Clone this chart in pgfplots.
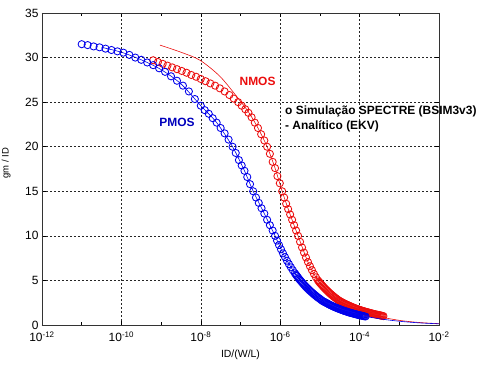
\documentclass[border=0pt]{standalone}
\usepackage{fontspec}
\setmainfont{Liberation Sans}
\usepackage{pgfplots}
\pgfplotsset{compat=1.18}
\definecolor{mblue}{rgb}{0,0,0.92}
\definecolor{mred}{rgb}{0.92,0.05,0.05}
\begin{document}
\begin{tikzpicture}
\path[use as bounding box] (-42bp,-40bp) rectangle (439bp,325bp);
\begin{axis}[
  at={(0,0)}, anchor=south west,
  scale only axis, width=397bp, height=312bp,
  clip mode=individual,
  xmin=-12, xmax=-2, ymin=0, ymax=35,
  xtick={-12,-10,-8,-6,-4,-2},
  xticklabels={10\textsuperscript{-12},10\textsuperscript{-10},10\textsuperscript{-8},10\textsuperscript{-6},10\textsuperscript{-4},10\textsuperscript{-2}},
  minor xtick={-11,-9,-7,-5,-3},
  ytick={0,5,...,35},
  grid=major,
  major grid style={dash pattern=on 2bp off 2bp, black!85, line width=0.5bp},
  tick align=inside,
  major tick length=4bp, minor tick length=3bp,
  tick style={black, line width=0.6bp},
  axis line style={line width=0.8bp, black!80},
  ticklabel style={font=\fontsize{12}{13}\selectfont},
  xticklabel style={yshift=-3bp},
  /pgf/number format/assume math mode=true,
  xlabel={ID/(W/L)}, ylabel={gm / ID},
  xlabel style={font=\fontsize{10.5}{12}\selectfont, at={(axis description cs:0.5,-0.096)}, anchor=center},
  ylabel style={font=\fontsize{9.5}{11}\selectfont, at={(axis description cs:-0.09,0.519)}, anchor=center},
]
% NMOS simulation (circles)
\addplot[only marks, mark=o, mark size=3.6bp, mred, mark options={line width=0.85bp}] coordinates {
(-9.20,29.7) (-9.08,29.5) (-8.96,29.3) (-8.84,29.1) (-8.72,28.9) (-8.60,28.7)
(-8.48,28.5) (-8.36,28.3) (-8.24,28.05) (-8.12,27.85) (-8.00,27.6) (-7.88,27.35)
(-7.76,27.1) (-7.64,26.85) (-7.52,26.55) (-7.40,26.2) (-7.28,25.8) (-7.17,25.4)
(-7.06,25.0) (-6.97,24.6) (-6.88,24.2) (-6.80,23.8) (-6.72,23.3) (-6.64,22.7)
(-6.56,22.1) (-6.48,21.4) (-6.40,20.7) (-6.33,20.0) (-6.26,19.2) (-6.19,18.3)
(-6.13,17.6) (-6.07,16.7) (-6.01,15.9) (-5.95,15.0) (-5.90,14.3) (-5.85,13.6)
(-5.80,13.0) (-5.75,12.4) (-5.70,11.8) (-5.65,11.2) (-5.60,10.6) (-5.55,10.0)
(-5.50,9.33) (-5.45,8.70) (-5.40,8.12) (-5.35,7.57) (-5.30,7.06) (-5.25,6.59)
(-5.20,6.15) (-5.15,5.73) (-5.10,5.35)
(-5.05,5.0) (-5.025,4.86) (-5.00,4.73) (-4.975,4.60) (-4.95,4.47) (-4.925,4.34)
(-4.90,4.22) (-4.875,4.10) (-4.85,3.99) (-4.825,3.88) (-4.80,3.77) (-4.775,3.66)
(-4.75,3.56) (-4.725,3.46) (-4.70,3.37) (-4.675,3.27) (-4.65,3.18) (-4.625,3.09)
(-4.60,3.01) (-4.575,2.92) (-4.55,2.84) (-4.525,2.76) (-4.50,2.69) (-4.475,2.63)
(-4.45,2.57) (-4.425,2.51) (-4.40,2.45) (-4.375,2.39) (-4.35,2.34) (-4.325,2.29)
(-4.30,2.24) (-4.275,2.19) (-4.25,2.14) (-4.225,2.09) (-4.20,2.04) (-4.175,1.99)
(-4.15,1.95) (-4.125,1.90) (-4.10,1.86) (-4.075,1.82) (-4.05,1.78) (-4.025,1.74)
(-4.00,1.70) (-3.975,1.66) (-3.95,1.63) (-3.925,1.59) (-3.90,1.56) (-3.875,1.52)
(-3.85,1.49) (-3.825,1.46) (-3.80,1.43) (-3.775,1.40) (-3.75,1.37) (-3.725,1.34)
(-3.70,1.31) (-3.675,1.28) (-3.65,1.25) (-3.625,1.22) (-3.60,1.20) (-3.575,1.17)
(-3.55,1.15) (-3.525,1.12) (-3.50,1.10) (-3.475,1.07) (-3.45,1.05) (-3.425,1.02)
(-3.40,1.0)
};
% PMOS simulation (circles)
\addplot[only marks, mark=o, mark size=3.6bp, mblue, mark options={line width=0.85bp}] coordinates {
(-11.00,31.5) (-10.85,31.4) (-10.70,31.25) (-10.55,31.15) (-10.40,31.0) (-10.25,30.85)
(-10.10,30.7) (-9.95,30.55) (-9.80,30.3) (-9.65,30.0) (-9.50,29.75) (-9.35,29.45)
(-9.20,29.15) (-9.05,28.8) (-8.90,28.4) (-8.75,27.9) (-8.60,27.4) (-8.45,26.85)
(-8.30,26.2) (-8.15,25.35) (-8.00,24.6) (-7.90,24.1) (-7.80,23.7) (-7.70,23.2)
(-7.60,22.7) (-7.50,22.1) (-7.40,21.5) (-7.30,20.8) (-7.20,20.0) (-7.12,19.3)
(-7.04,18.5) (-6.97,17.9) (-6.90,17.3) (-6.83,16.6) (-6.76,15.8) (-6.68,15.0)
(-6.61,14.3) (-6.54,13.7) (-6.47,13.1) (-6.40,12.5) (-6.33,11.8) (-6.26,11.2)
(-6.19,10.6) (-6.13,10.0) (-6.08,9.47) (-6.03,8.97) (-5.98,8.49) (-5.93,8.04)
(-5.88,7.62) (-5.83,7.21) (-5.78,6.83) (-5.73,6.47) (-5.68,6.13)
(-5.63,5.80) (-5.605,5.65) (-5.58,5.50) (-5.555,5.35) (-5.53,5.20) (-5.505,5.06)
(-5.48,4.93) (-5.455,4.80) (-5.43,4.67) (-5.405,4.54) (-5.38,4.42) (-5.355,4.30)
(-5.33,4.19) (-5.305,4.08) (-5.28,3.97) (-5.255,3.86) (-5.23,3.76) (-5.205,3.66)
(-5.18,3.56) (-5.155,3.46) (-5.13,3.37) (-5.105,3.28) (-5.08,3.19) (-5.055,3.10)
(-5.03,3.02) (-5.005,2.94) (-4.98,2.86) (-4.95,2.75) (-4.925,2.68) (-4.90,2.62)
(-4.875,2.56) (-4.85,2.50) (-4.825,2.44) (-4.80,2.38) (-4.775,2.32) (-4.75,2.26)
(-4.725,2.21) (-4.70,2.16) (-4.675,2.10) (-4.65,2.05) (-4.625,2.00) (-4.60,1.96)
(-4.575,1.91) (-4.55,1.86) (-4.525,1.82) (-4.50,1.78) (-4.475,1.73) (-4.45,1.69)
(-4.425,1.65) (-4.40,1.61) (-4.375,1.57) (-4.35,1.54) (-4.325,1.50) (-4.30,1.46)
(-4.275,1.42) (-4.25,1.39) (-4.225,1.36) (-4.20,1.33) (-4.175,1.30) (-4.15,1.27)
(-4.125,1.24) (-4.10,1.21) (-4.075,1.18) (-4.05,1.15) (-4.025,1.12) (-4.00,1.10)
(-3.975,1.07) (-3.95,1.05) (-3.925,1.02) (-3.90,1.00) (-3.875,0.98) (-3.85,0.96)
};
% NMOS analytic (EKV)
\addplot[mred, line width=0.6bp, smooth] coordinates {
(-9.03,31.4) (-8.5,30.6) (-8.02,29.7) (-7.52,27.9) (-7.09,25.6) (-6.8,23.9)
(-6.56,22.1) (-6.33,20.0) (-6.13,17.6) (-5.95,15.0) (-5.75,12.4) (-5.55,10.0)
(-5.3,7.06) (-5.05,5.0) (-4.75,3.56) (-4.5,2.69) (-4.0,1.70) (-3.5,0.95)
(-3.0,0.52) (-2.5,0.28) (-2.0,0.15)
};
% PMOS analytic (EKV)
\addplot[mblue, line width=0.6bp, smooth] coordinates {
(-10.5,31.15) (-10.0,30.6) (-9.5,29.75) (-9.0,28.65) (-8.5,27.05) (-8.0,24.6)
(-7.6,22.7) (-7.2,20.0) (-6.9,17.3) (-6.68,15.0) (-6.4,12.5) (-6.13,10.0)
(-5.88,7.62) (-5.58,5.5) (-5.28,3.97) (-4.98,2.86) (-4.5,1.78) (-4.0,1.10)
(-3.5,0.70) (-3.0,0.42) (-2.5,0.24) (-2.0,0.13)
};
\node[font=\fontsize{12}{14}\selectfont\bfseries, text=mred, inner sep=0pt] at (rel axis cs:0.543,0.782) {NMOS};
\node[font=\fontsize{12}{14}\selectfont\bfseries, text=mblue!80!black, inner sep=0pt] at (rel axis cs:0.340,0.651) {PMOS};
\node[font=\fontsize{12}{15}\selectfont\bfseries, anchor=north west, align=left, inner sep=0pt] at (rel axis cs:0.612,0.702) {o Simulação SPECTRE (BSIM3v3)\\- Analítico (EKV)};
\end{axis}
\end{tikzpicture}
\end{document}
